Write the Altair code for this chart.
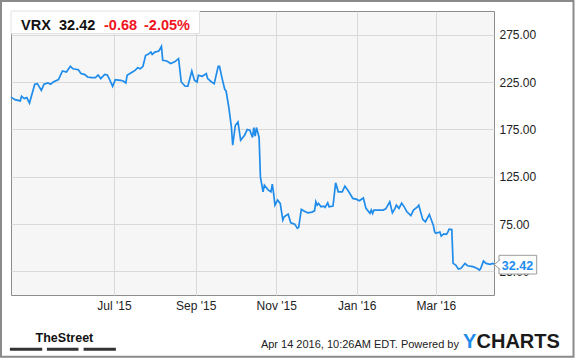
import altair as alt
import pandas as pd

# ---- data ----
day_offsets = [0, 3, 7, 8, 10, 12, 14, 18, 20, 23, 25, 28, 30, 32, 36, 39, 42, 45, 47, 51,
               53, 56, 58, 61, 64, 66, 68, 71, 73, 75, 77, 79, 83, 85, 87, 88, 92, 94, 96, 98,
               100, 102, 104, 106, 107, 109, 112, 114, 115, 118, 121, 124, 127, 129, 132, 134,
               137, 139, 141, 142, 145, 148, 149, 152, 154, 157, 158, 160, 162, 163, 165, 167,
               168, 170, 172, 174, 177, 179, 181, 183, 184, 185, 186, 188, 189, 191, 192, 195,
               197, 198, 199, 200, 202, 204, 206, 207, 210, 212, 215, 217, 218, 220, 223, 225,
               228, 230, 231, 232, 233, 235, 237, 238, 240, 241, 244, 246, 248, 251, 253, 256,
               259, 262, 264, 267, 269, 272, 273, 274, 275, 282, 284, 287, 289, 291, 292, 294,
               296, 298, 300, 303, 305, 308, 309, 312, 314, 317, 320, 321, 322, 325, 326, 328,
               330, 331, 332, 334, 335, 337, 339, 341, 344, 346, 350, 353, 355, 356, 358, 360,
               363, 365, 366]
prices = [209, 206.4, 205, 210, 207.5, 208.5, 202.8, 222.6, 223.3, 216.2, 222.6, 224, 222.6, 225,
          227.5, 236.6, 235.5, 241.6, 239, 238, 233.9, 232.8, 230.3, 229.6, 229.6, 232.4, 228.6,
          233.1, 232.5, 226.8, 220.5, 227.5, 226.8, 226, 224, 232, 235.5, 237.3, 240.1, 239,
          241.6, 253.2, 254.2, 256.6, 254.2, 256.6, 257.7, 262.7, 247.9, 247.2, 244.6, 246.3,
          249.7, 225, 220.5, 220.5, 236.6, 226.8, 225, 232, 231, 233.9, 228.6, 225, 223.3,
          241.6, 241.6, 228.6, 217, 215.5, 198.6, 177.5, 158.2, 179.3, 182.8, 163.5, 168.8,
          174.8, 174.1, 166.4, 176.9, 167.7, 176.9, 166.4, 124.8, 109, 116, 110.8, 109, 117.1,
          107.3, 94.9, 100.2, 96.7, 79.1, 82.6, 85.4, 76.3, 74.9, 70.4, 71.5, 90.4, 87.9, 86.8,
          87.6, 88.9, 98.4, 94.9, 96.7, 93.1, 93.9, 92.5, 97.4, 93.1, 93.9, 118.5, 109, 109,
          115, 109, 102, 101, 99.5, 102.5, 91.5, 86.2, 89.7, 86.2, 89.7, 89.7, 91, 98.4, 86.8,
          91.5, 94.9, 91.5, 97, 93.1, 87.9, 83.8, 89.7, 93, 94.9, 79.9, 77.3, 85, 73.8, 66.8,
          65.1, 66.5, 62.2, 64.5, 64, 66.5, 69.6, 69.3, 33.4, 31.6, 27.4, 28.2, 33.4, 30.9,
          29.9, 28.2, 26.4, 28.2, 35.9, 33.4, 32.4, 33.4, 32.42]
start_date = pd.Timestamp("2015-04-14")

ticker = "VRX"
last_price = "32.42"
change_abs = "-0.68"
change_pct = "-2.05%"
x_tick_months = [(2015, 7), (2015, 9), (2015, 11), (2016, 1), (2016, 3)]
y_ticks = [25, 75, 125, 175, 225, 275]
stamp_text = "Apr 14 2016, 10:26AM EDT. Powered by"
brand_left = "TheStreet"
brand_y = "Y"
brand_rest = "CHARTS"

df = pd.DataFrame({
    "date": [start_date + pd.Timedelta(days=d) for d in day_offsets],
    "price": prices,
})
one = pd.DataFrame({"k": [0]})

W, H = 483, 284
FONT = "Liberation Sans, Arial, Helvetica, sans-serif"
BLUE = "#1f8ceb"
RED = "#f0141e"

xscale = alt.Scale(domain=[alt.DateTime(year=2015, month=4, date=14),
                           alt.DateTime(year=2016, month=4, date=14)])

line = alt.Chart(df).mark_line(color=BLUE, strokeWidth=1.7).encode(
    x=alt.X("date:T", scale=xscale,
            axis=alt.Axis(values=[alt.DateTime(year=y, month=m, date=1) for y, m in x_tick_months],
                          format="%b '%y", title=None, grid=True, ticks=False, domain=False,
                          labelPadding=5, labelFlush=False, labelOverlap=False)),
    y=alt.Y("price:Q", scale=alt.Scale(domain=[0, 300], nice=False, zero=True),
            axis=alt.Axis(orient="right", values=y_ticks, format=".2f", title=None, grid=True,
                          ticks=False, domain=False, labelPadding=5, labelOverlap=False)),
)


def txt(s, x, y, size, color, weight="normal", align="left", font=FONT):
    return alt.Chart(one).mark_text(
        text=s, fontSize=size, font=font, fontWeight=weight, color=color,
        align=align, baseline="alphabetic"
    ).encode(x=alt.value(x), y=alt.value(y))


def box(x, x2, y, y2, fill, stroke=None, sw=1, fo=1.0):
    kw = dict(fill=fill, fillOpacity=fo)
    if stroke:
        kw.update(stroke=stroke, strokeWidth=sw)
    return alt.Chart(one).mark_rect(**kw).encode(
        x=alt.value(x), x2=alt.value(x2), y=alt.value(y), y2=alt.value(y2))


frame = alt.Chart(one).mark_rect(fillOpacity=0, stroke="#8a8a8a", strokeWidth=2).encode(
    x=alt.value(-10), x2=alt.value(562.5), y=alt.value(-10), y2=alt.value(345.7))

header_box = box(0, 188.5, 0, 22.5, "white", stroke="#e2e2e2")
header = [
    txt(ticker, 10, 18.5, 14.5, "#111", "bold"),
    txt(last_price, 48, 18.5, 14.5, "#111", "bold"),
    txt(change_abs, 93, 18.5, 14.5, RED, "bold"),
    txt(change_pct, 133, 18.5, 14.5, RED, "bold"),
]

badge_rect = box(488, 525.7, 244.3, 263, "white", stroke="#9a9a9a")
badge_ptr = alt.Chart(one).mark_point(
    shape="M1.2,-1 L0,0 L1.2,1", size=100, filled=True, fill="white",
    stroke="#9a9a9a", strokeWidth=1, opacity=1
).encode(x=alt.value(483.3), y=alt.value(253.6))
badge_txt = txt(last_price, 506.5, 258.8, 12.5, BLUE, "bold", align="center")

footer = [
    txt(brand_left, 24.6, 331, 12.5, "#111", "bold"),
    box(-1.1, 31.2, 336.7, 339.7, "#333333"),
    box(35.9, 67.5, 336.7, 339.7, "#333333"),
    box(72.6, 104.9, 336.7, 339.7, "#333333"),
    txt(stamp_text, 448, 337.3, 11, "#222", align="right"),
    txt(brand_y, 452, 337, 20, BLUE, "bold"),
    txt(brand_rest, 465.5, 337, 20, "#1a1a1a", "bold"),
]

chart = alt.layer(
    frame, line, header_box, *header, badge_rect, badge_ptr, badge_txt, *footer
).properties(
    width=W, height=H,
    padding={"left": 11, "top": 11, "right": 81, "bottom": 63},
    autosize="none",
).configure(background="white", font=FONT).configure_view(
    stroke="#8c8c8c", fill="#f6f6f6", strokeWidth=1
).configure_axis(
    gridColor="#d9d9d9", gridWidth=1, labelColor="#222222", labelFont=FONT, labelFontSize=12
)

chart.save("out.html", embed_options={"renderer": "svg", "actions": False})
